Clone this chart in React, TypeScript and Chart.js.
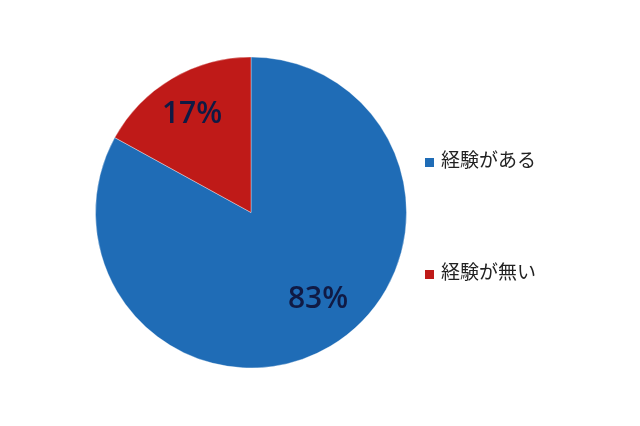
import React, { useEffect, useRef } from 'react';
import { Chart, registerables } from 'chart.js';

Chart.register(...registerables);

const categories = ['経験がある', '経験が無い'];
const shares = [83, 17];
const sliceColors = ['#1f6cb6', '#bf1a18'];

// small nudge (px) for the percent labels, per slice
const labelNudge = [
  { x: 10, y: -9 },
  { x: -2, y: -2 },
];

const percentLabels = {
  id: 'percentLabels',
  afterDatasetsDraw(chart: Chart) {
    const ctx = chart.ctx;
    const meta = chart.getDatasetMeta(0);
    ctx.save();
    ctx.font = '600 30px "Open Sans", "Noto Sans", sans-serif';
    ctx.fillStyle = '#101a44';
    ctx.textAlign = 'center';
    ctx.textBaseline = 'middle';
    meta.data.forEach((arc: any, i: number) => {
      const { x, y, startAngle, endAngle, outerRadius } = arc.getProps(
        ['x', 'y', 'startAngle', 'endAngle', 'outerRadius'],
        true
      );
      const mid = (startAngle + endAngle) / 2;
      const r = outerRadius * 0.72;
      const n = labelNudge[i] || { x: 0, y: 0 };
      ctx.fillText(
        shares[i] + '%',
        x + Math.cos(mid) * r + n.x,
        y + Math.sin(mid) * r + n.y
      );
    });
    ctx.restore();
  },
};

const App: React.FC = () => {
  const chartRef = useRef<HTMLCanvasElement>(null);
  const chartInstance = useRef<Chart | null>(null);

  useEffect(() => {
    document.body.style.margin = '0';
    if (chartInstance.current) {
      chartInstance.current.destroy();
    }
    if (chartRef.current) {
      const ctx = chartRef.current.getContext('2d');
      if (ctx) {
        chartInstance.current = new Chart(ctx, {
          type: 'pie',
          data: {
            labels: categories,
            datasets: [
              {
                data: shares,
                backgroundColor: sliceColors,
                borderColor: 'rgba(255,255,255,0.35)',
                borderWidth: 1,
              },
            ],
          },
          options: {
            responsive: false,
            animation: false,
            layout: {
              padding: { top: 56, bottom: 57, left: 95, right: 233 },
            },
            plugins: {
              legend: { display: false },
              tooltip: { enabled: false },
            },
          },
          plugins: [percentLabels],
        });
      }
    }
    return () => {
      if (chartInstance.current) {
        chartInstance.current.destroy();
        chartInstance.current = null;
      }
    };
  }, []);

  const legendTops = [148, 260];

  return (
    <div style={{ position: 'absolute', left: 0, top: 0, width: 640, height: 426, background: '#fff' }}>
      <canvas ref={chartRef} width={640} height={426}></canvas>
      {categories.map((c, i) => (
        <div
          key={c}
          style={{
            position: 'absolute',
            left: 425,
            top: legendTops[i],
            display: 'flex',
            alignItems: 'flex-end',
            fontFamily: '"Noto Sans CJK JP", sans-serif',
            fontSize: 19,
            lineHeight: '22px',
            color: '#222',
          }}
        >
          <span
            style={{
              display: 'inline-block',
              width: 9,
              height: 9,
              background: sliceColors[i],
              marginRight: 7,
              marginBottom: 3,
            }}
          ></span>
          <span>{c}</span>
        </div>
      ))}
    </div>
  );
};

export default App;
